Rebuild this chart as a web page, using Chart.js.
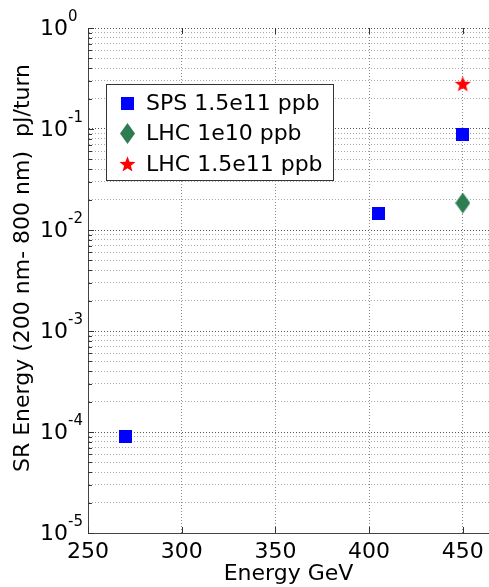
<!DOCTYPE html>
<html>
<head>
<meta charset="utf-8">
<script src="https://cdn.jsdelivr.net/npm/chart.js@4.4.0/dist/chart.umd.min.js"></script>
<style>
  html, body { margin: 0; padding: 0; background: #fff; }
  #wrap { width: 489px; height: 587px; position: relative; }
</style>
</head>
<body>
<div id="wrap"><canvas id="srChart"></canvas></div>
<script>
// axis ticks
const xTicks = [250, 300, 350, 400, 450];
const yDecades = [-5, -4, -3, -2, -1, 0];
const yMinorSteps = [2, 3, 4, 5, 6, 7, 8, 9];

// SPS 1.5e11 ppb
const spsEnergy = [270, 405, 450];
const spsSR = [9.1e-5, 1.47e-2, 8.9e-2];
// LHC 1e10 ppb
const lhcLowEnergy = [450];
const lhcLowSR = [1.85e-2];
// LHC 1.5e11 ppb
const lhcHighEnergy = [450];
const lhcHighSR = [0.28];

const seriesLabels = ['SPS 1.5e11 ppb', 'LHC 1e10 ppb', 'LHC 1.5e11 ppb'];
const xTitle = 'Energy GeV';
const yTitle = 'SR Energy (200 nm- 800 nm)  pJ/turn';

const FONT = '"DejaVu Sans", "Liberation Sans", Arial, sans-serif';

// marker images (chart.js has no 5-point star / tall diamond)
function makeMarker(w, h, color, drawPath) {
    const c = document.createElement('canvas');
    c.width = w;
    c.height = h;
    const g = c.getContext('2d');
    g.fillStyle = color;
    g.beginPath();
    drawPath(g, w, h);
    g.closePath();
    g.fill();
    return c;
}

const squareMarker = makeMarker(13, 13, '#0000ff', (g, w, h) => g.rect(0, 0, w, h));
const diamondMarker = makeMarker(15, 21, '#2e7d50', (g, w, h) => {
    g.moveTo(w / 2, 0);
    g.lineTo(w, h / 2);
    g.lineTo(w / 2, h);
    g.lineTo(0, h / 2);
});
const starMarker = makeMarker(17, 16, '#ff0000', (g, w, h) => {
    const cx = w / 2, cy = 8.7, R = 8.5, r = 3.5;
    for (let i = 0; i < 10; i++) {
        const a = -Math.PI / 2 + i * Math.PI / 5;
        const rad = i % 2 ? r : R;
        const px = cx + rad * Math.cos(a);
        const py = cy + rad * Math.sin(a);
        if (i) g.lineTo(px, py); else g.moveTo(px, py);
    }
});
const markers = [squareMarker, diamondMarker, starMarker];

const toPoints = (xs, ys) => xs.map((v, i) => ({ x: v, y: ys[i] }));

// y labels 10^n, axis title, inward ticks and legend box
const axisDecor = {
    id: 'axisDecor',
    afterDraw(chart) {
        const { ctx, chartArea: a, scales: { x, y } } = chart;
        ctx.save();

        // inward tick marks
        ctx.strokeStyle = '#333';
        ctx.lineWidth = 1;
        ctx.beginPath();
        y.ticks.forEach(t => {
            const py = Math.round(y.getPixelForValue(t.value)) + 0.5;
            ctx.moveTo(a.left, py);
            ctx.lineTo(a.left + (t.major ? 6 : 4), py);
        });
        xTicks.forEach(v => {
            const px = Math.round(x.getPixelForValue(v)) + 0.5;
            ctx.moveTo(px, a.bottom);
            ctx.lineTo(px, a.bottom - 6);
            ctx.moveTo(px, a.top);
            ctx.lineTo(px, a.top + 6);
        });
        ctx.stroke();

        // y tick labels
        ctx.fillStyle = '#000';
        ctx.textAlign = 'left';
        ctx.textBaseline = 'middle';
        yDecades.forEach(e => {
            const py = y.getPixelForValue(Math.pow(10, e));
            ctx.font = '22px ' + FONT;
            ctx.fillText('10', 40, py + 1);
            const w = ctx.measureText('10').width;
            ctx.font = '15px ' + FONT;
            ctx.fillText(String(e), 40 + w, py - 11);
        });

        // y axis title
        ctx.save();
        ctx.translate(23, 268);
        ctx.rotate(-Math.PI / 2);
        ctx.textAlign = 'center';
        ctx.font = '22px ' + FONT;
        ctx.fillText(yTitle, 0, 0);
        ctx.restore();

        // legend
        const lx = a.left + 18, ly = a.top + 56;
        ctx.fillStyle = '#fff';
        ctx.fillRect(lx, ly, 227, 96);
        ctx.strokeStyle = '#333';
        ctx.strokeRect(lx + 0.5, ly + 0.5, 227, 96);
        ctx.font = '22px ' + FONT;
        ctx.fillStyle = '#000';
        seriesLabels.forEach((label, i) => {
            const cy = ly + 19 + i * 30.5;
            const m = markers[i];
            ctx.drawImage(m, Math.round(lx + 21 - m.width / 2), Math.round(cy - m.height / 2));
            ctx.fillText(label, lx + 40, cy + 1);
        });

        ctx.restore();
    }
};

new Chart(document.getElementById('srChart'), {
    type: 'scatter',
    data: {
        datasets: [
            { label: seriesLabels[0], data: toPoints(spsEnergy, spsSR), pointStyle: squareMarker },
            { label: seriesLabels[1], data: toPoints(lhcLowEnergy, lhcLowSR), pointStyle: diamondMarker },
            { label: seriesLabels[2], data: toPoints(lhcHighEnergy, lhcHighSR), pointStyle: starMarker }
        ]
    },
    options: {
        responsive: true,
        maintainAspectRatio: false,
        animation: false,
        events: [],
        layout: {
            autoPadding: false,
            padding: { top: 28, right: 0, left: 0, bottom: 0 }
        },
        plugins: {
            legend: { display: false },
            tooltip: { enabled: false }
        },
        scales: {
            x: {
                type: 'linear',
                min: 250,
                max: 464,
                afterBuildTicks: scale => {
                    scale.ticks = xTicks.map(v => ({ value: v }));
                },
                afterFit: scale => {
                    scale.height = 54;
                    scale.paddingLeft = 0;
                    scale.paddingRight = 0;
                },
                grid: { color: '#8a8a8a', lineWidth: 1, drawTicks: false },
                border: { display: true, color: '#444', width: 1, dash: [1, 2] },
                ticks: {
                    color: '#000',
                    padding: 6,
                    maxRotation: 0,
                    autoSkip: false,
                    font: { size: 22, family: FONT }
                },
                title: {
                    display: true,
                    text: xTitle,
                    color: '#000',
                    padding: 0,
                    font: { size: 22, family: FONT }
                }
            },
            y: {
                type: 'logarithmic',
                min: 1e-5,
                max: 1,
                afterBuildTicks: scale => {
                    const ticks = [];
                    yDecades.forEach(e => {
                        const base = Math.pow(10, e);
                        ticks.push({ value: base, major: true });
                        if (e < 0) {
                            yMinorSteps.forEach(s => ticks.push({ value: s * base, major: false }));
                        }
                    });
                    scale.ticks = ticks;
                },
                afterFit: scale => {
                    scale.width = 88;
                    scale.paddingTop = 0;
                    scale.paddingBottom = 0;
                },
                grid: {
                    color: ctx => (ctx.tick && ctx.tick.major ? '#555' : '#a8a8a8'),
                    lineWidth: 1,
                    drawTicks: false
                },
                border: { display: true, color: '#444', width: 1, dash: [1, 2] },
                ticks: { display: false }
            }
        }
    },
    plugins: [axisDecor]
});
</script>
</body>
</html>
